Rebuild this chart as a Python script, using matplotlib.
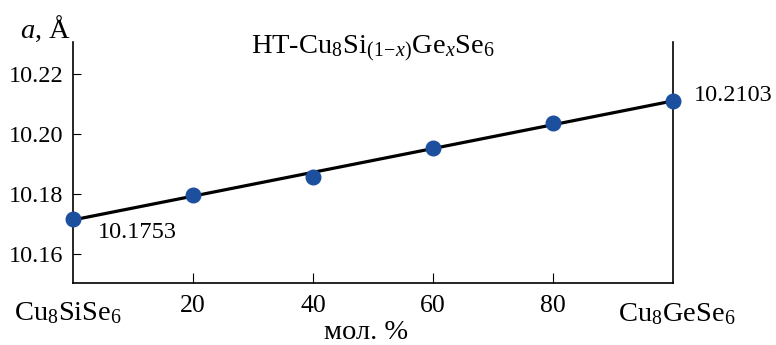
import numpy as np
import matplotlib.pyplot as plt

plt.rcParams['font.family'] = ['Liberation Serif', 'DejaVu Serif']
plt.rcParams['mathtext.fontset'] = 'custom'
plt.rcParams['mathtext.rm'] = 'Liberation Serif'
plt.rcParams['mathtext.it'] = 'Liberation Serif:italic'

# data
conc = [0, 20, 40, 60, 80, 100]
a_param = [10.1717, 10.1797, 10.1857, 10.1953, 10.2037, 10.2110]
xticks = [20, 40, 60, 80]
yticks = [10.16, 10.18, 10.20, 10.22]

fig = plt.figure(figsize=(7.76, 3.45), dpi=100)
ax = fig.add_axes([0.094, 0.180, 0.773, 0.698])

# linear fit
k, b = np.polyfit(conc, a_param, 1)
xf = np.array([0, 100])
ax.plot(xf, k * xf + b, color='black', lw=2.3, zorder=2)
ax.plot(conc, a_param, 'o', color='#1d4f9f', markersize=10.5, zorder=3, clip_on=False)

ax.set_xlim(0, 100)
ax.set_ylim(10.1503, 10.2307)
ax.set_xticks(xticks)
ax.set_yticks(yticks)
ax.set_yticklabels(['%.2f' % v for v in yticks])
ax.tick_params(axis='x', direction='in', length=7, labelsize=18.5, pad=9)
ax.tick_params(axis='y', direction='in', length=6, labelsize=17.5, pad=7)
ax.spines['top'].set_visible(False)
for s in ['left', 'right', 'bottom']:
    ax.spines[s].set_linewidth(1.2)

ax.text(0.5, 1.035, r'HT-Cu$_8$Si$_{(1\!-\!x)}$Ge$_x$Se$_6$', transform=ax.transAxes,
        ha='center', va='top', fontsize=20.5)
fig.text(0.026, 0.915, r'$a$, Å', fontsize=20.5, va='center')
fig.text(0.472, 0.035, 'мол. %', fontsize=20.5, ha='center', va='center')
fig.text(0.018, 0.093, r'Cu$_8$SiSe$_6$', fontsize=20.5, va='center')
fig.text(0.797, 0.088, r'Cu$_8$GeSe$_6$', fontsize=20.5, va='center')

ax.annotate('10.1753', (conc[0], a_param[0]), xytext=(18, -10), textcoords='offset points',
            fontsize=17.5, va='center')
ax.annotate('10.2103', (conc[-1], a_param[-1]), xytext=(15, 4), textcoords='offset points',
            fontsize=17.5, va='center', annotation_clip=False)

fig.savefig('out.png', dpi=100)
